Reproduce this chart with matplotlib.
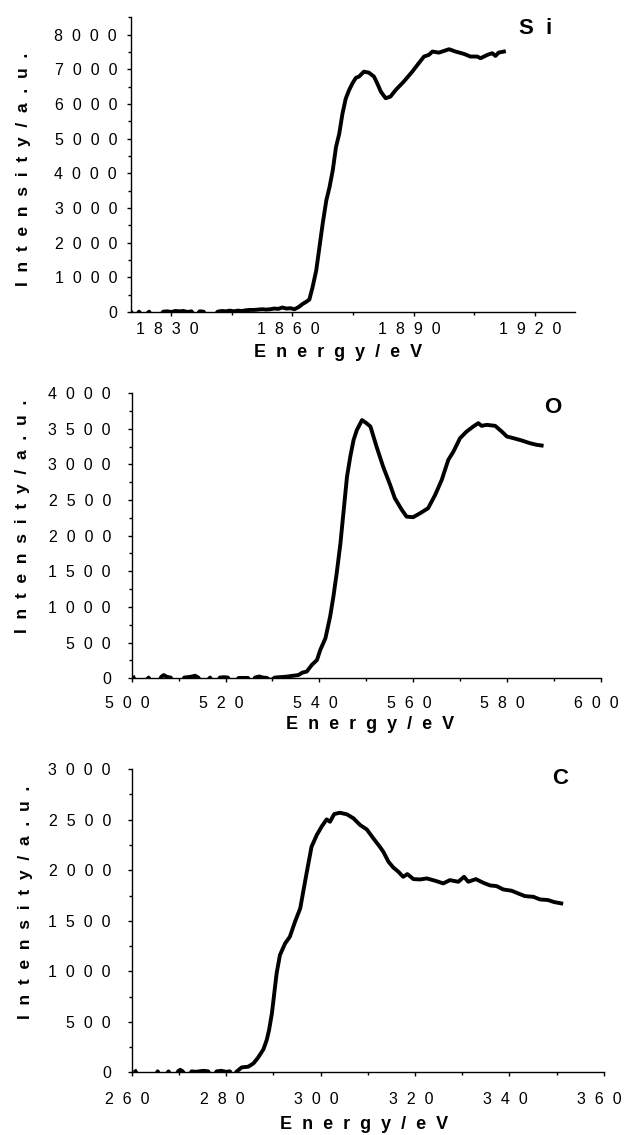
import matplotlib
matplotlib.use('Agg')
import matplotlib.pyplot as plt
from matplotlib.ticker import MultipleLocator, FuncFormatter
from matplotlib.transforms import ScaledTranslation

plt.rcParams['font.family'] = ['Liberation Sans', 'DejaVu Sans']

# Si K-edge
si_energy = [1820, 1821, 1822, 1823, 1824.5, 1825.5, 1826.5, 1828, 1829, 1830,
             1831, 1832, 1833, 1834, 1835, 1836, 1837, 1838, 1839, 1840,
             1841.5, 1842.5, 1843.5, 1844.5, 1845.5, 1846.5, 1847.5, 1848.5, 1849.5, 1850.5,
             1851.5, 1852.5, 1853.5, 1854.5, 1855.5, 1856.5, 1857.5, 1858.5, 1859.5, 1860.5,
             1861.5, 1862.5, 1863.5, 1864.2, 1865, 1865.9, 1866.7, 1867.5, 1868.4, 1869.2,
             1870, 1870.8, 1871.6, 1872.4, 1873.2, 1874, 1874.9, 1875.7, 1876.5, 1877.7,
             1878.9, 1880.2, 1881.0, 1881.9, 1883.1, 1884.3, 1885.6, 1887.6, 1889.7, 1891.3,
             1892.6, 1893.8, 1894.7, 1896.3, 1898.8, 1900.4, 1902.5, 1904.1, 1905.8, 1906.6,
             1908.3, 1909.5, 1910.3, 1911.1, 1912.4]
si_intensity = [10, -150, 10, -150, 10, -200, -200, 10, 20, 0,
                30, 20, 30, 0, 20, -150, 20, 10, -200, -200,
                10, 30, 20, 40, 20, 40, 30, 50, 60, 60,
                70, 80, 70, 80, 100, 90, 130, 100, 110, 80,
                140, 230, 300, 360, 720, 1200, 1875, 2550, 3220, 3605,
                4090, 4760, 5140, 5720, 6150, 6390, 6600, 6750, 6790, 6930,
                6905, 6790, 6598, 6357, 6165, 6213, 6405, 6645, 6933, 7175,
                7367, 7415, 7511, 7480, 7578, 7511, 7443, 7367, 7367, 7319,
                7415, 7463, 7386, 7481, 7511]

# O K-edge
o_energy = [500.4, 501.5, 503.6, 504.5, 505.5, 506.3, 506.8, 507.5, 508.3, 509.2,
            510.5, 511.2, 512.5, 513.5, 514.2, 515.3, 516.7, 517.7, 518.8, 519.7,
            520.5, 521.5, 522.8, 524.0, 524.8, 525.5, 526.3, 527.2, 528.0, 528.8,
            529.6, 530.5, 531.5, 532.5, 533.3, 534.1, 535.0, 535.6, 536.4, 537.3,
            538.4, 539.5, 540.2, 541.3, 542.3, 543.0, 543.7, 544.5, 545.2, 545.9,
            546.6, 547.3, 548.0, 549.1, 550.1, 550.9, 552.2, 553.6, 555.1, 556.1,
            557.6, 558.6, 560.0, 561.5, 563.2, 564.7, 566.1, 567.5, 568.6, 570.0,
            571.4, 572.8, 573.9, 574.6, 575.7, 577.5, 578.9, 580.0, 581.4, 583.2,
            584.9, 586.4, 587.4]
o_intensity = [10, -150, 10, -100, -100, 20, 45, 20, 10, -100,
               -100, 10, 20, 35, 10, -100, 10, -100, 10, 15,
               10, -100, 5, 5, 5, -100, 10, 25, 10, 5,
               -30, 10, 15, 20, 25, 33, 40, 47, 80, 93,
               187, 257, 397, 561, 864, 1145, 1472, 1893, 2360, 2827,
               3108, 3341, 3481, 3621, 3575, 3530, 3249, 2969, 2712, 2525,
               2361, 2267, 2259, 2315, 2385, 2572, 2782, 3063, 3180, 3367,
               3460, 3530, 3578, 3540, 3554, 3540, 3460, 3390, 3367, 3334,
               3297, 3273, 3264]

# C K-edge
c_energy = [260.8, 262, 264.5, 265.5, 266.5, 267.8, 268.8, 269.9, 270.3, 270.8,
            271.7, 272.7, 273.5, 274.3, 275.2, 276.2, 277, 278, 279, 280,
            280.8, 281.5, 282.2, 283.3, 284.7, 285.8, 286.8, 287.9, 288.6, 289.1,
            289.7, 290.2, 290.7, 291.4, 292.5, 293.5, 294.6, 295.7, 296.4, 297.1,
            298.1, 299.2, 300.3, 301.3, 302.0, 302.9, 304.1, 305.6, 307.0, 308.4,
            309.8, 311.2, 312.6, 313.3, 314.4, 315.4, 316.5, 317.5, 318.4, 319.7,
            321.1, 322.5, 324.3, 326.0, 327.4, 329.2, 330.4, 331.3, 332.9, 334.5,
            335.9, 337.3, 338.7, 340.5, 341.9, 343.3, 345.1, 346.5, 348.2, 349.5,
            351.0]
c_intensity = [10, -80, -80, 10, -80, 10, -80, 15, 25, 10,
               -60, 10, 5, 10, 15, 10, -60, 10, 15, 5,
               10, -60, 7, 49, 56, 89, 148, 228, 320, 419,
               584, 782, 980, 1161, 1276, 1342, 1491, 1623, 1804, 1985,
               2233, 2348, 2437, 2503, 2480, 2556, 2569, 2553, 2513, 2447,
               2404, 2315, 2230, 2183, 2084, 2028, 1985, 1935, 1962, 1912,
               1909, 1919, 1896, 1870, 1902, 1886, 1935, 1886, 1912, 1876,
               1850, 1843, 1810, 1797, 1770, 1744, 1737, 1711, 1705, 1685,
               1672]


def spaced(s, gap):
    return gap.join(s)


def tick_fmt(v, pos):
    return spaced(str(int(round(v))), '  ')


fig = plt.figure(figsize=(6.24, 11.35), dpi=100)

panels = [
    # data, rect, xlim, xmaj, xmin, ylim, ymaj, ymin, label, label pos, ypad, xpad, xlab pos, ylab pos
    (si_energy, si_intensity, [0.2099, 0.7251, 0.7115, 0.2597], (1820, 1930), 30, 15,
     (0, 8500), 1000, 500, 'S  i', (536, 28), 7, 4.5, (0.466, -0.136), (-0.241, 0.485)),
    (o_energy, o_intensity, [0.2111, 0.4024, 0.7516, 0.2513], (500, 600), 20, 10,
     (0, 4000), 500, 250, 'O', (553, 407), 12, 9.5, (0.508, -0.163), (-0.232, 0.569)),
    (c_energy, c_intensity, [0.2111, 0.0552, 0.7564, 0.2671], (260, 360), 20, 10,
     (0, 3000), 500, 250, 'C', (560, 779), 12, 11, (0.492, -0.173), (-0.226, 0.562)),
]

shift = ScaledTranslation(-3 / 72, 0, fig.dpi_scale_trans)

for (xs, ys, rect, xl, xmaj, xmin, yl, ymaj, ymin, name, npos,
     ypad, xpad, xlab, ylab) in panels:
    ax = fig.add_axes(rect)
    ax.plot(xs, ys, color='black', lw=2.8, solid_joinstyle='round')
    ax.set_xlim(*xl)
    ax.set_ylim(*yl)
    ax.spines['top'].set_visible(False)
    ax.spines['right'].set_visible(False)
    for sp in ('left', 'bottom'):
        ax.spines[sp].set_linewidth(1.0)
    ax.xaxis.set_major_locator(MultipleLocator(xmaj))
    ax.xaxis.set_minor_locator(MultipleLocator(xmin))
    ax.yaxis.set_major_locator(MultipleLocator(ymaj))
    ax.yaxis.set_minor_locator(MultipleLocator(ymin))
    ax.xaxis.set_major_formatter(FuncFormatter(tick_fmt))
    ax.yaxis.set_major_formatter(FuncFormatter(tick_fmt))
    ax.tick_params(which='major', direction='out', length=3, width=1.0, labelsize=11.5)
    ax.tick_params(which='minor', direction='out', length=2.2, width=1.0)
    ax.tick_params(axis='y', which='major', pad=ypad)
    ax.tick_params(axis='x', which='major', pad=xpad)
    for lab in ax.get_xticklabels():
        lab.set_transform(lab.get_transform() + shift)
    ax.set_xlabel(spaced('Energy/eV', '  '), fontsize=13, fontweight='bold')
    ax.set_ylabel(spaced('Intensity/a.u.', '  '), fontsize=12.5, fontweight='bold')
    ax.xaxis.label.set_va('center')
    ax.yaxis.label.set_va('center')
    ax.xaxis.set_label_coords(*xlab)
    ax.yaxis.set_label_coords(*ylab)
    fig.text(npos[0] / 624, 1 - npos[1] / 1135, name, fontsize=16, fontweight='bold',
             ha='center', va='center')

fig.savefig('out.png', dpi=100)
